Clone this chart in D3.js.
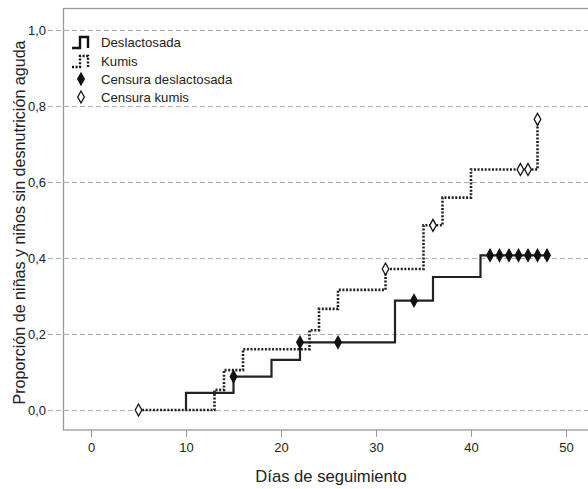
<!DOCTYPE html>
<html><head><meta charset="utf-8">
<script src="https://cdn.jsdelivr.net/npm/d3@7"></script>
<style>body{margin:0;background:#fff}svg{display:block}text{font-family:Arial,"Liberation Sans",sans-serif}</style>
</head><body><svg id="c" width="588" height="489"></svg>
<script>
// Data
const xTicks = [0, 10, 20, 30, 40, 50];
const yTicks = [0, 0.2, 0.4, 0.6, 0.8, 1.0];
const yTickLabels = ["0,0", "0,2", "0,4", "0,6", "0,8", "1,0"];
const deslTime = [10, 10, 15, 15, 19, 19, 22, 22, 32, 32, 36, 36, 41, 41, 48];
const deslVal  = [0, 0.045, 0.045, 0.088, 0.088, 0.132, 0.132, 0.178, 0.178, 0.288, 0.288, 0.35, 0.35, 0.407, 0.407];
const kumisTime = [5, 13, 13, 14, 14, 16, 16, 23, 23, 24, 24, 26, 26, 31, 31, 35, 35, 37, 37, 40, 40, 47, 47];
const kumisVal  = [0, 0, 0.053, 0.053, 0.105, 0.105, 0.16, 0.16, 0.21, 0.21, 0.266, 0.266, 0.316, 0.316, 0.371, 0.371, 0.486, 0.486, 0.559, 0.559, 0.633, 0.633, 0.765];
const censDeslTime = [15, 22, 26, 34, 42, 43, 44, 45, 46, 47, 48];
const censDeslVal  = [0.088, 0.178, 0.178, 0.288, 0.407, 0.407, 0.407, 0.407, 0.407, 0.407, 0.407];
const censKumisTime = [5, 31, 36, 45.2, 46, 47];
const censKumisVal  = [0, 0.371, 0.486, 0.633, 0.633, 0.765];
const legendLabels = ["Deslactosada", "Kumis", "Censura deslactosada", "Censura kumis"];

const svg = d3.select("#c");
const x = d3.scaleLinear().domain([0, 50]).range([91, 566]);
const y = d3.scaleLinear().domain([0, 1]).range([410, 30]);
const grey = "#999";

// frame
svg.append("rect").attr("x", 63.5).attr("y", 8.5).attr("width", 600).attr("height", 421.5)
  .attr("fill", "none").attr("stroke", grey).attr("stroke-width", 1.3);

// gridlines
svg.append("g").selectAll("line").data(yTicks).join("line")
  .attr("x1", 48).attr("x2", 588).attr("y1", d => Math.round(y(d)) + 0.5).attr("y2", d => Math.round(y(d)) + 0.5)
  .attr("stroke", "#aaa").attr("stroke-width", 1).attr("stroke-dasharray", "5,3");

// y tick labels
svg.append("g").selectAll("text").data(yTicks).join("text")
  .attr("x", 46).attr("y", d => y(d) + 4.5).attr("text-anchor", "end")
  .attr("font-size", 13).attr("fill", "#222").text((d, i) => yTickLabels[i]);

// x axis ticks
const xAxis = d3.axisBottom(x).tickValues(xTicks).tickSize(7).tickPadding(6).tickFormat(d3.format("d"));
const gx = svg.append("g").attr("transform", "translate(0,430)").call(xAxis);
gx.select(".domain").remove();
gx.selectAll(".tick line").attr("stroke", grey);
gx.selectAll(".tick text").attr("font-size", 13).attr("fill", "#222").attr("font-family", "Arial, 'Liberation Sans', sans-serif");

// axis titles
svg.append("text").attr("x", 331).attr("y", 482).attr("text-anchor", "middle")
  .attr("font-size", 16.6).attr("fill", "#222").text("Días de seguimiento");
svg.append("text").attr("transform", "translate(25,222.5) rotate(-90)").attr("text-anchor", "middle")
  .attr("font-size", 16.1).attr("fill", "#222").text("Proporción de niñas y niños sin desnutrición aguda");

// lines
const line = d3.line().x(d => x(d[0])).y(d => y(d[1]));
svg.append("path").datum(kumisTime.map((t, i) => [t, kumisVal[i]]))
  .attr("d", line).attr("fill", "none").attr("stroke", "#222").attr("stroke-width", 2.6).attr("stroke-dasharray", "2,1.6");
svg.append("path").datum(deslTime.map((t, i) => [t, deslVal[i]]))
  .attr("d", line).attr("fill", "none").attr("stroke", "#222").attr("stroke-width", 2.2);

// diamonds
function diamond(cx, cy, filled) {
  return svg.append("path")
    .attr("d", `M${cx},${cy-6}L${cx+3.3},${cy}L${cx},${cy+6}L${cx-3.3},${cy}Z`)
    .attr("fill", filled ? "#111" : "#fff").attr("stroke", "#111").attr("stroke-width", 1.3);
}
censDeslTime.forEach((t, i) => diamond(x(t), y(censDeslVal[i]), true));
censKumisTime.forEach((t, i) => diamond(x(t), y(censKumisVal[i]), false));

// legend
const lg = svg.append("g");
const ly = [42, 61, 79, 97];
lg.append("path").attr("d", `M72,${ly[0]+6}H80V${ly[0]-5}H88V${ly[0]+6}`).attr("fill", "none").attr("stroke", "#111").attr("stroke-width", 2.4);
lg.append("path").attr("d", `M72,${ly[1]+6}H80V${ly[1]-5}H88V${ly[1]+6}`).attr("fill", "none").attr("stroke", "#111").attr("stroke-width", 2.4).attr("stroke-dasharray", "2,1.6");
diamond(81, ly[2], true);
diamond(81, ly[3], false);
lg.selectAll("text").data(legendLabels).join("text")
  .attr("x", 101).attr("y", (d, i) => ly[i] + 4.5).attr("font-size", 13.2).attr("fill", "#222").text(d => d);
</script></body></html>
